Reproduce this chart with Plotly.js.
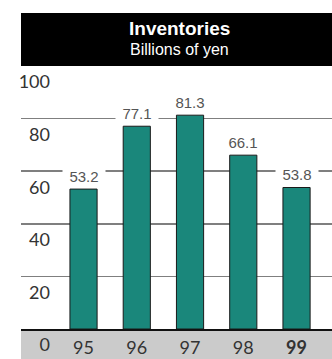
<!DOCTYPE html>
<html>
<head>
<meta charset="utf-8">
<script src="https://cdn.plot.ly/plotly-3.0.1.min.js"></script>
<style>html,body{margin:0;padding:0;background:#fff;}#chart{width:332px;height:359px;}</style>
</head>
<body>
<div id="chart"></div>
<script>
// ---- data ----
const categories = ['95', '96', '97', '98', '99'];
const tickLabels = ['95', '96', '97', '98', '<b>99</b>'];
const inventories = [53.2, 77.1, 81.3, 66.1, 53.8];
const yTicks = [0, 20, 40, 60, 80, 100];
const chartTitle = 'Inventories';
const chartSubtitle = 'Billions of yen';

// ---- geometry helpers (pixel -> paper) ----
const W = 332, H = 359, L = 21, R = 0, T = 66, B = 30;
const PW = W - L - R, PH = H - T - B;
const px = x => (x - L) / PW;
const py = y => (H - B - y) / PH;

const trace = {
  type: 'bar',
  x: categories,
  y: inventories,
  marker: { color: '#1a877b', line: { color: '#1a1a1a', width: 1 } },
  hoverinfo: 'skip'
};

// category axis: annotation x given as the category's serial number
const valueLabels = categories.map((c, i) => ({
  x: i, y: inventories[i], xref: 'x', yref: 'y',
  text: inventories[i].toFixed(1),
  showarrow: false, yanchor: 'middle', yshift: 13,
  bgcolor: '#ffffff', width: 42, borderpad: 0,
  font: { family: 'Liberation Sans, Arial, sans-serif', size: 15, color: '#555555' }
}));

const layout = {
  width: W, height: H,
  margin: { l: L, r: R, t: T, b: B, pad: 0 },
  paper_bgcolor: '#ffffff', plot_bgcolor: '#ffffff',
  showlegend: false,
  bargap: 0.49,
  xaxis: {
    type: 'category',
    range: [-1.174, 4.666],
    tickvals: categories, ticktext: tickLabels,
    ticks: '', showgrid: false, zeroline: false,
    showline: true, linecolor: '#111111', linewidth: 1.5,
    tickfont: { family: 'Lato, sans-serif', size: 18, color: '#333333' },
    ticklabelstandoff: 2,
    fixedrange: true
  },
  yaxis: {
    range: [0, 100],
    tickvals: yTicks,
    ticks: '', showline: false, zeroline: false,
    showgrid: true, gridcolor: '#7f7f7f', gridwidth: 1.5,
    tickfont: { family: 'Lato, sans-serif', size: 18, color: '#333333' },
    ticklabelstandoff: -30, ticklabelshift: 16,
    fixedrange: true
  },
  shapes: [
    { type: 'rect', xref: 'paper', yref: 'paper', x0: 0, x1: 1, y0: 1, y1: py(13),
      fillcolor: '#000000', line: { width: 0 }, layer: 'below' },
    { type: 'rect', xref: 'paper', yref: 'paper', x0: 0, x1: 1, y0: py(H), y1: 0,
      fillcolor: '#cbcbcb', line: { width: 0 }, layer: 'below' }
  ],
  annotations: [
    { xref: 'paper', yref: 'paper', x: px(179), y: py(28), xanchor: 'center', yanchor: 'middle',
      text: '<b>' + chartTitle + '</b>', showarrow: false,
      font: { family: 'Liberation Sans, Arial, sans-serif', size: 19, color: '#ffffff' } },
    { xref: 'paper', yref: 'paper', x: px(179), y: py(50), xanchor: 'center', yanchor: 'middle',
      text: chartSubtitle, showarrow: false,
      font: { family: 'Liberation Sans, Arial, sans-serif', size: 16, color: '#ffffff' } }
  ].concat(valueLabels)
};

Plotly.newPlot('chart', [trace], layout, { displayModeBar: false, staticPlot: true });
</script>
</body>
</html>
